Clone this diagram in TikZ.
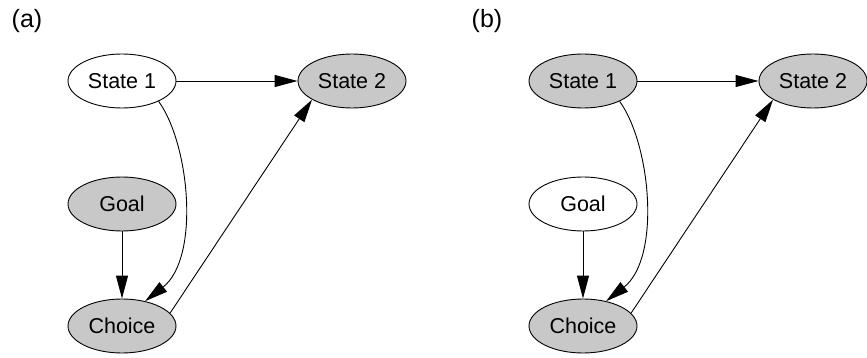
\documentclass[tikz,border=0pt]{standalone}
\usepackage{fontspec}
\setmainfont{Liberation Sans}
\usetikzlibrary{arrows.meta,shapes.geometric}
\definecolor{obsfill}{RGB}{200,200,200}
\tikzset{
  var/.style={ellipse, draw, line width=0.9pt, minimum width=108pt, minimum height=54pt,
    inner sep=0pt, font=\fontsize{21.5}{24}\selectfont},
  observed/.style={var, fill=obsfill},
  hidden/.style={var, fill=white},
  edge/.style={line width=0.9pt, -{Triangle[length=23pt, width=12pt]}},
  panel/.style={font=\fontsize{25}{28}\selectfont, inner sep=0pt}
}
\begin{document}
\begin{tikzpicture}[x=1pt, y=-1pt]
  \useasboundingbox (0,0) rectangle (867,358);

  % panel (a): state 1 hidden
  \node[panel] (la) at (27,21) {(a)};
  \node[hidden]   (a1) at (122,81)  {State 1};
  \node[observed] (a2) at (352,81)  {State 2};
  \node[observed] (ag) at (122,204) {Goal};
  \node[observed] (ac) at (122,326) {Choice};
  \draw[edge] (a1) -- (a2);
  \draw[edge] (ag) -- (ac);
  \draw[edge] (a1.-29) .. controls (190,145) and (200,258) .. (ac.47);
  \draw[edge] (ac.15) -- (a2.205);

  % panel (b): goal hidden, state 1 observed
  \begin{scope}[xshift=461pt]
    \node[panel] (lb) at (26,21) {(b)};
    \node[observed] (b1) at (122,81)  {State 1};
    \node[observed] (b2) at (352,81)  {State 2};
    \node[hidden]   (bg) at (122,204) {Goal};
    \node[observed] (bc) at (122,326) {Choice};
    \draw[edge] (b1) -- (b2);
    \draw[edge] (bg) -- (bc);
    \draw[edge] (b1.-29) .. controls (190,145) and (200,258) .. (bc.47);
    \draw[edge] (bc.15) -- (b2.205);
  \end{scope}
\end{tikzpicture}
\end{document}
